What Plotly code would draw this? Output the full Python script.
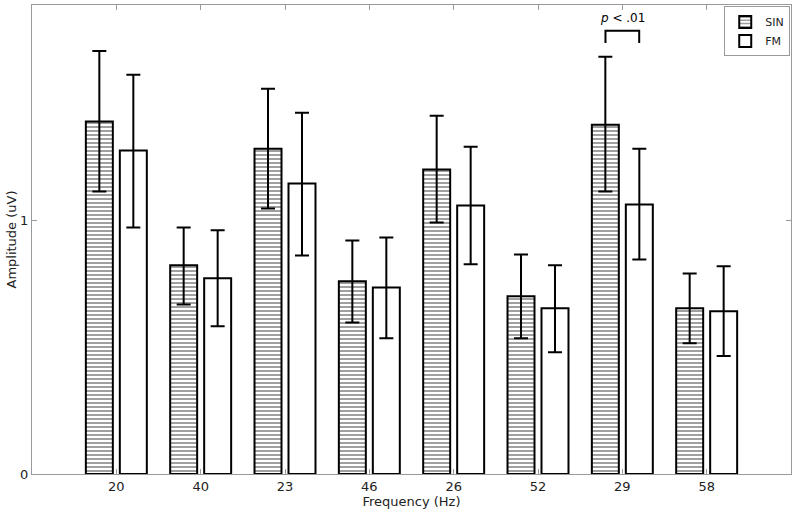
import plotly.graph_objects as go

freqs = ["20", "40", "23", "46", "26", "52", "29", "58"]

sin_amp = [1.39, 0.823, 1.283, 0.760, 1.201, 0.701, 1.378, 0.654]
sin_hi = [1.669, 0.972, 1.520, 0.921, 1.413, 0.866, 1.646, 0.791]
sin_lo = [1.114, 0.669, 1.047, 0.598, 0.992, 0.535, 1.114, 0.516]

fm_amp = [1.276, 0.772, 1.146, 0.736, 1.059, 0.654, 1.063, 0.642]
fm_hi = [1.575, 0.961, 1.425, 0.933, 1.291, 0.823, 1.283, 0.819]
fm_lo = [0.972, 0.583, 0.862, 0.535, 0.827, 0.480, 0.846, 0.465]

sig_idx = 6
sig_text = "<i>p</i> < .01"


def err(vals, hi, lo):
    return dict(
        type="data",
        symmetric=False,
        array=[h - v for h, v in zip(hi, vals)],
        arrayminus=[v - l for v, l in zip(vals, lo)],
        color="black",
        thickness=2,
        width=7,
    )


fig = go.Figure()
fig.add_trace(go.Bar(
    x=freqs, y=sin_amp, name="SIN",
    marker=dict(
        color="white",
        line=dict(color="black", width=2),
        pattern=dict(shape="-", fgcolor="#111", bgcolor="white", size=4, solidity=0.4),
    ),
    error_y=err(sin_amp, sin_hi, sin_lo),
))
fig.add_trace(go.Bar(
    x=freqs, y=fm_amp, name="FM",
    marker=dict(color="white", line=dict(color="black", width=2)),
    error_y=err(fm_amp, fm_hi, fm_lo),
))

# significance bracket
fig.add_shape(type="path", xref="x", yref="y",
              path=f"M {sig_idx - 0.2},1.70 L {sig_idx - 0.2},1.748 L {sig_idx + 0.2},1.748 L {sig_idx + 0.2},1.70",
              line=dict(color="black", width=2))
fig.add_annotation(x=sig_idx, y=1.765, xref="x", yref="y", text=sig_text, showarrow=False,
                   yanchor="bottom", font=dict(size=12, color="black"))

axis_common = dict(
    showline=True, linecolor="#9a9a9a", linewidth=1, mirror="ticks",
    ticks="inside", tickcolor="#9a9a9a", ticklen=5, showgrid=False, zeroline=False,
    tickfont=dict(size=13, color="#222"), automargin=False,
)

fig.update_layout(
    width=797, height=514,
    margin=dict(l=32, r=6, t=5, b=40),
    plot_bgcolor="white", paper_bgcolor="white",
    font=dict(family="DejaVu Sans", color="#222"),
    barmode="group", bargap=0.194, bargroupgap=0.206,
    showlegend=True,
    legend=dict(x=0.999, y=0.997, xanchor="right", yanchor="top",
                bordercolor="#9a9a9a", borderwidth=1, bgcolor="white",
                font=dict(size=11), tracegroupgap=0),
    xaxis=dict(title=dict(text="Frequency (Hz)", font=dict(size=13), standoff=0),
               range=[-1, 8], **axis_common),
    yaxis=dict(title=dict(text="Amplitude (uV)", font=dict(size=13), standoff=0),
               range=[0, 1.85], tickvals=[0, 1], **axis_common),
)

# page body has a default 8px margin; drop it so the figure fills the window
fig.write_html("out.html", config={"displayModeBar": False},
               post_script="document.body.style.margin='0';")
